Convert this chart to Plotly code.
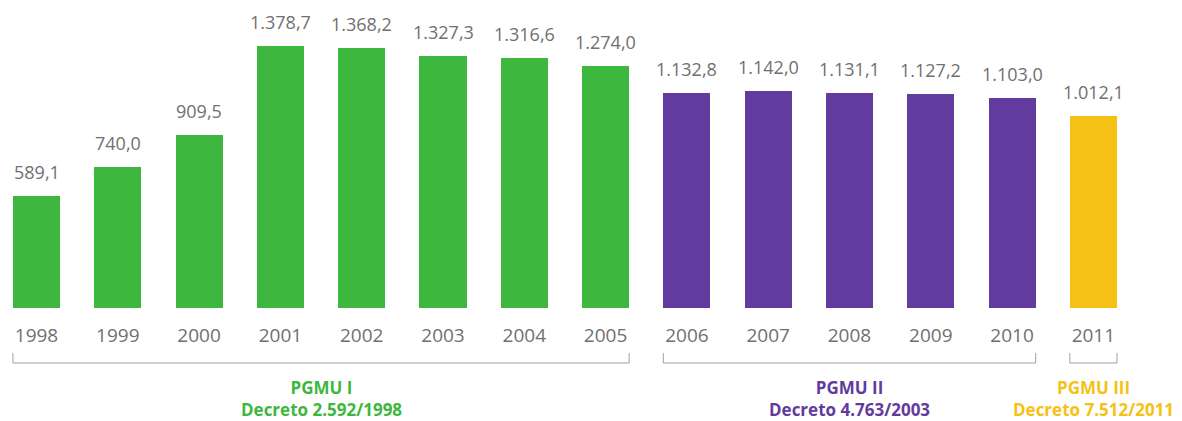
import plotly.graph_objects as go

years = ["1998", "1999", "2000", "2001", "2002", "2003", "2004", "2005",
         "2006", "2007", "2008", "2009", "2010", "2011"]
values = [589.1, 740.0, 909.5, 1378.7, 1368.2, 1327.3, 1316.6, 1274.0,
          1132.8, 1142.0, 1131.1, 1127.2, 1103.0, 1012.1]
labels = ["589,1", "740,0", "909,5", "1.378,7", "1.368,2", "1.327,3", "1.316,6", "1.274,0",
          "1.132,8", "1.142,0", "1.131,1", "1.127,2", "1.103,0", "1.012,1"]
groups = ["PGMU I"] * 8 + ["PGMU II"] * 5 + ["PGMU III"]
group_names = ["PGMU I", "PGMU II", "PGMU III"]
group_decrees = ["Decreto 2.592/1998", "Decreto 4.763/2003", "Decreto 7.512/2011"]
group_colors = {"PGMU I": "#3EB73E", "PGMU II": "#623B9E", "PGMU III": "#F6C115"}

GRAY = "#707070"
FONT = "Open Sans"
BAR_W = 0.58

fig = go.Figure()
fig.add_trace(go.Bar(
    x=list(range(len(years))), y=values,
    marker=dict(color=[group_colors[g] for g in groups], line=dict(width=0)),
    width=BAR_W, hoverinfo="skip", showlegend=False,
))

for i, (v, t) in enumerate(zip(values, labels)):
    fig.add_annotation(x=i, y=v, text=t, showarrow=False, yanchor="bottom",
                       yshift=10, font=dict(family=FONT, size=18, color=GRAY))

# group brackets and labels
BR_Y = 1 - 363 / 421
BR_TOP = 1 - 353 / 421
for g, dec in zip(group_names, group_decrees):
    idx = [i for i, gg in enumerate(groups) if gg == g]
    x0 = idx[0] - BAR_W / 2
    x1 = idx[-1] + BAR_W / 2
    lc = "#A0A0A0"
    fig.add_shape(type="line", xref="x", yref="paper", x0=x0, x1=x1, y0=BR_Y, y1=BR_Y,
                  line=dict(color=lc, width=1))
    fig.add_shape(type="line", xref="x", yref="paper", x0=x0, x1=x0, y0=BR_Y, y1=BR_TOP,
                  line=dict(color=lc, width=1))
    fig.add_shape(type="line", xref="x", yref="paper", x0=x1, x1=x1, y0=BR_Y, y1=BR_TOP,
                  line=dict(color=lc, width=1))
    xc = (idx[0] + idx[-1]) / 2
    fig.add_annotation(x=xc, xref="x", y=1 - 398.5 / 421, yref="paper",
                       text="<b>" + g + "<br>" + dec + "</b>",
                       showarrow=False, yanchor="middle", align="center", borderpad=0,
                       font=dict(family=FONT, size=17, color=group_colors[g]))

fig.update_layout(
    width=1182, height=421,
    margin=dict(l=0, r=0, t=0, b=0),
    paper_bgcolor="white", plot_bgcolor="white",
    bargap=0,
    xaxis=dict(range=[-0.449, 14.09], tickmode="array", tickvals=list(range(len(years))),
               ticktext=years, showgrid=False, zeroline=False, showline=False,
               ticks="", ticklabelstandoff=14,
               tickfont=dict(family=FONT, size=19, color=GRAY)),
    yaxis=dict(domain=[1 - 308 / 421, 1], range=[0, 1621], visible=False),
)

fig.write_html("out.html", config={"displayModeBar": False},
               post_script="document.body.style.margin='0';document.body.style.overflow='hidden';")
